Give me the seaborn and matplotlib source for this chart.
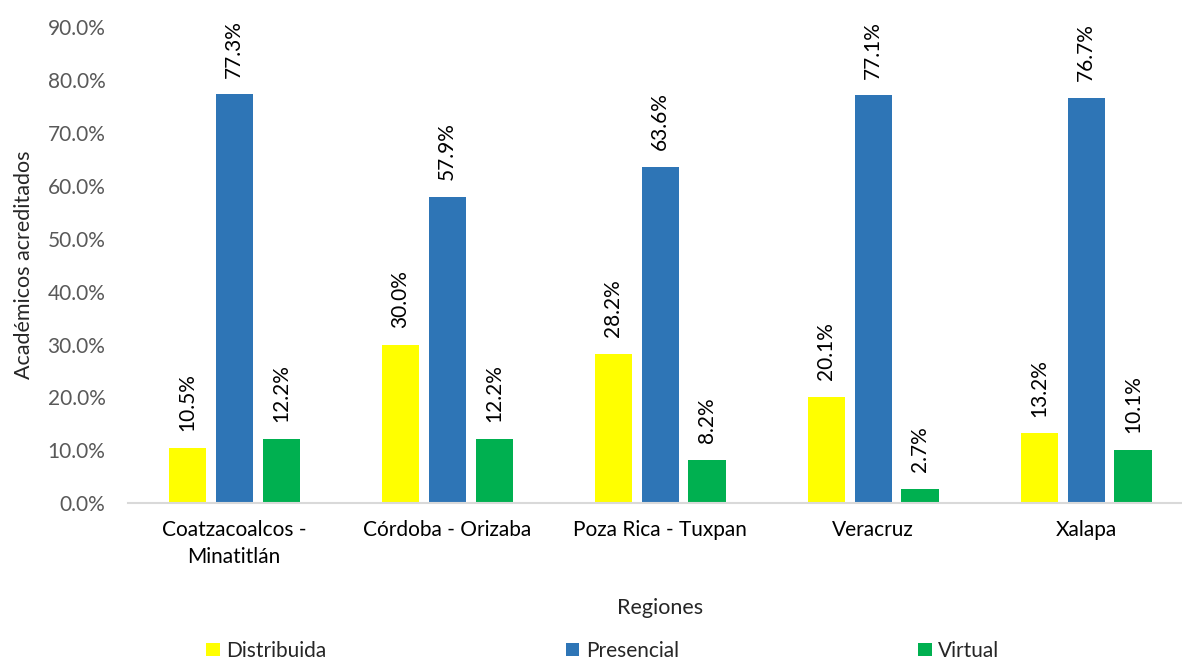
import matplotlib
matplotlib.use("Agg")
import matplotlib.pyplot as plt
import pandas as pd
import seaborn as sns

# Datos del gráfico
regiones = ["Coatzacoalcos -\nMinatitlán", "Córdoba - Orizaba", "Poza Rica - Tuxpan",
            "Veracruz", "Xalapa"]
modalidades = ["Distribuida", "Presencial", "Virtual"]
distribuida = [10.5, 30.0, 28.2, 20.1, 13.2]
presencial = [77.3, 57.9, 63.6, 77.1, 76.7]
virtual = [12.2, 12.2, 8.2, 2.7, 10.1]
colores = ["#FFFF00", "#2E75B6", "#00B050"]

df = pd.DataFrame({
    "Región": regiones * 3,
    "Modalidad": [m for m in modalidades for _ in regiones],
    "Valor": distribuida + presencial + virtual,
})

sns.set_style("white")
plt.rcParams["font.family"] = ["Lato", "DejaVu Sans"]

fig = plt.figure(figsize=(11.82, 6.63), dpi=100)
ax = fig.add_axes([0.108, 0.241, 0.901, 0.718])

sns.barplot(data=df, x="Región", y="Valor", hue="Modalidad", palette=colores,
            width=0.66, gap=0.21, ax=ax, saturation=1, linewidth=0)

# Etiquetas de valor rotadas
for cont in ax.containers:
    ax.bar_label(cont, fmt="%.1f%%", rotation=90, padding=12, fontsize=15, color="black")

ax.set_ylim(0, 90)
ax.set_xlim(-0.5, 4.5)
ax.set_yticks(range(0, 91, 10))
ax.set_yticklabels([f"{v:.1f}%" for v in range(0, 91, 10)])
ax.tick_params(axis="y", labelsize=15, labelcolor="#595959", length=0, pad=16)
ax.tick_params(axis="x", labelsize=15, labelcolor="black", length=0, pad=12)
for t in ax.get_xticklabels():
    t.set_linespacing(1.45)

ax.set_ylabel("Académicos acreditados", fontsize=15.5, labelpad=10)
ax.set_xlabel("Regiones", fontsize=15.5, labelpad=22)

for s in ["left", "right", "top"]:
    ax.spines[s].set_visible(False)
ax.spines["bottom"].set_color("#D9D9D9")
ax.spines["bottom"].set_linewidth(1.5)

handles, labels = ax.get_legend_handles_labels()
ax.get_legend().remove()
fig.legend(handles, labels, loc="lower center", bbox_to_anchor=(0.51, -0.025), ncol=3,
           frameon=False, fontsize=15, handlelength=0.65, handleheight=0.65,
           handletextpad=0.3, columnspacing=11.5)

fig.savefig("out.png", dpi=100)
